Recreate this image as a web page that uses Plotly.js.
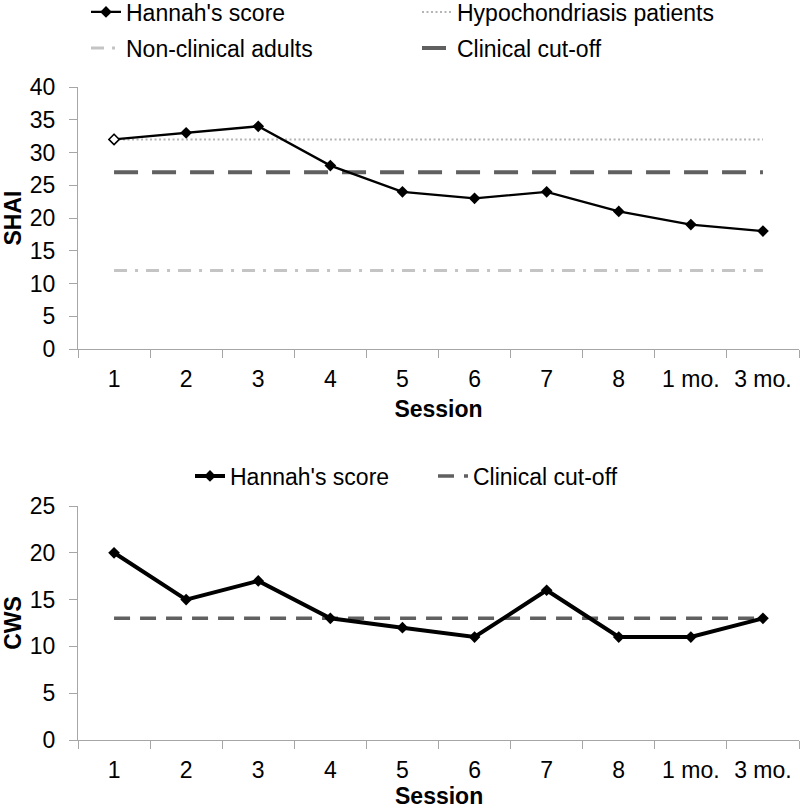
<!DOCTYPE html>
<html><head><meta charset="utf-8">
<script src="https://cdn.plot.ly/plotly-3.0.1.min.js"></script>
<style>body{margin:0;background:#fff}#chart{width:800px;height:810px}</style>
</head><body><div id="chart"></div>
<script>
const sessions = ['1','2','3','4','5','6','7','8','1 mo.','3 mo.'];
const shaiHannah = [32,33,34,28,24,23,24,21,19,18];
const shaiHypo = [32,32,32,32,32,32,32,32,32,32];
const shaiNonClinical = [12,12,12,12,12,12,12,12,12,12];
const shaiCutoff = [27,27,27,27,27,27,27,27,27,27];
const cwsHannah = [20,15,17,13,12,11,16,11,11,13];
const cwsCutoff = [13,13,13,13,13,13,13,13,13,13];

const F = 'Liberation Sans, Arial, sans-serif';
const FS = 23;
const traces = [
  {x:sessions,y:shaiHypo,name:'Hypochondriasis patients',mode:'lines',line:{color:'#b4b4b4',width:2,dash:'2px,2.5px'},xaxis:'x',yaxis:'y',legend:'legend2'},
  {x:sessions,y:shaiNonClinical,name:'Non-clinical adults',mode:'lines',line:{color:'#c4c4c4',width:3,dash:'13px,8px,3px,8px'},xaxis:'x',yaxis:'y',legend:'legend3'},
  {x:sessions,y:shaiCutoff,name:'Clinical cut-off',mode:'lines',line:{color:'#606060',width:4,dash:'24px,14px'},xaxis:'x',yaxis:'y',legend:'legend4'},
  {x:sessions,y:shaiHannah,name:"Hannah's score",mode:'lines+markers',line:{color:'#000',width:2.3},marker:{symbol:'diamond',size:9,color:'#000'},xaxis:'x',yaxis:'y',legend:'legend'},
  {x:sessions.slice(0,1),y:shaiHannah.slice(0,1),name:"Hannah's score",mode:'markers',marker:{symbol:'diamond',size:8,color:'#fff',line:{color:'#000',width:1.5}},xaxis:'x',yaxis:'y',showlegend:false,hoverinfo:'skip'},
  {x:sessions,y:cwsCutoff,name:'Clinical cut-off',mode:'lines',line:{color:'#606060',width:3.5,dash:'16px,10px'},xaxis:'x2',yaxis:'y2',legend:'legend6'},
  {x:sessions,y:cwsHannah,name:"Hannah's score",mode:'lines+markers',line:{color:'#000',width:4},marker:{symbol:'diamond',size:9,color:'#000'},xaxis:'x2',yaxis:'y2',legend:'legend5'}
];
const xax = {type:'category',categoryorder:'array',categoryarray:sessions,range:[-0.5,9.5],showline:true,linecolor:'#a6a6a6',linewidth:1,ticks:'outside',tickson:'boundaries',ticklen:8,tickcolor:'#a6a6a6',showgrid:false,zeroline:false,tickfont:{family:F,size:FS,color:'#000'},ticklabelstandoff:9};
const yax = {showline:true,linecolor:'#a6a6a6',linewidth:1,ticks:'outside',ticklen:8,tickcolor:'#a6a6a6',showgrid:false,zeroline:false,tickfont:{family:F,size:FS,color:'#000'},ticklabelstandoff:9};
function leg(xpx, ypx){
  return {orientation:'h',xref:'container',yref:'container',x:xpx/800,y:1-ypx/810,xanchor:'left',yanchor:'middle',font:{family:F,size:FS,color:'#000'},bgcolor:'rgba(0,0,0,0)',borderwidth:0};
}
const titleFont = {family:F,size:FS,color:'#000'};
const layout = {
  width:800,height:810,margin:{l:78,r:1,t:0,b:0,autoexpand:false},
  paper_bgcolor:'#fff',plot_bgcolor:'#fff',
  showlegend:true,
  xaxis:Object.assign({},xax,{anchor:'y',title:{text:'<b>Session</b>',font:titleFont,standoff:10}}),
  yaxis:Object.assign({},yax,{anchor:'x',domain:[1-349/810,1-87/810],range:[0,40],dtick:5,title:{text:'<b>SHAI</b>',font:titleFont,standoff:8}}),
  xaxis2:Object.assign({},xax,{anchor:'y2'}),
  yaxis2:Object.assign({},yax,{anchor:'x2',domain:[1-740/810,1-506/810],range:[0,25],dtick:5,title:{text:'<b>CWS</b>',font:titleFont,standoff:8}}),
  annotations:[{text:'<b>Session</b>',xref:'x2 domain',yref:'paper',x:0.5,y:1-796/810,xanchor:'center',yanchor:'middle',showarrow:false,font:titleFont}],
  legend:leg(86,12),
  legend2:leg(417,12),
  legend3:leg(86,48),
  legend4:leg(417,48),
  legend5:leg(190,476),
  legend6:leg(433,476)
};
Plotly.newPlot('chart',traces,layout,{displayModeBar:false,staticPlot:true});
</script></body></html>
